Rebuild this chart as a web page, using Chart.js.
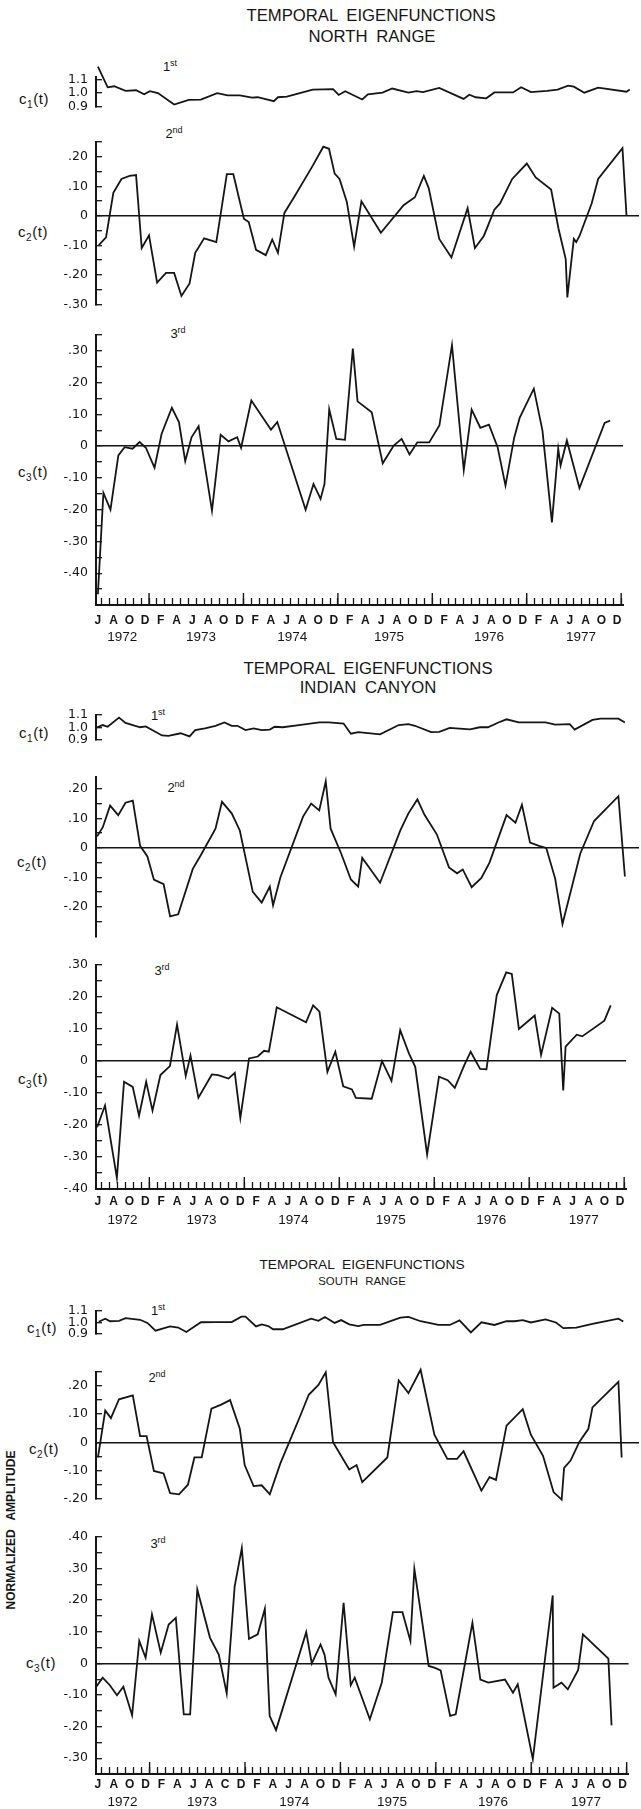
<!DOCTYPE html>
<html>
<head>
<meta charset="utf-8">
<script src="https://cdn.jsdelivr.net/npm/chart.js@4.4.1/dist/chart.umd.min.js"></script>
<style>
  body { margin: 0; background: #fff; }
  #page { position: relative; width: 641px; height: 1809px; overflow: hidden; color: #151515; font-family: "Liberation Sans", sans-serif; }
  .box { position: absolute; left: 0; }
  .t { position: absolute; white-space: nowrap; transform: translate(-50%, -50%); line-height: 1; }
  .title { font-size: 16.7px; word-spacing: 4px; }
  .small { font-size: 13.7px; }
  .tiny { font-size: 11.4px; }
  .clab { font-size: 15px; letter-spacing: 0.6px; }
  .clab sub { font-size: 10px; vertical-align: -4px; }
  .ord { font-size: 13px; }
  .ord sup { font-size: 9px; vertical-align: 5px; }
  .ylab { font-size: 12px; font-weight: bold; word-spacing: 6px; transform: translate(-50%, -50%) rotate(-90deg); }
</style>
</head>
<body>
<div id="page">
  <div class="t title" style="left:371px;top:16px">TEMPORAL EIGENFUNCTIONS</div>
  <div class="t title" style="left:372px;top:37px">NORTH RANGE</div>
  <div class="t clab" style="left:34px;top:100px">c<sub>1</sub>(t)</div>
  <div class="t clab" style="left:33px;top:233px">c<sub>2</sub>(t)</div>
  <div class="t clab" style="left:33px;top:473px">c<sub>3</sub>(t)</div>
  <div class="t ord" style="left:170px;top:66px">1<sup>st</sup></div>
  <div class="t ord" style="left:174px;top:133px">2<sup>nd</sup></div>
  <div class="t ord" style="left:178px;top:333px">3<sup>rd</sup></div>

  <div class="t title" style="left:368px;top:669px">TEMPORAL EIGENFUNCTIONS</div>
  <div class="t title" style="left:368px;top:688px">INDIAN CANYON</div>
  <div class="t clab" style="left:34px;top:734px">c<sub>1</sub>(t)</div>
  <div class="t clab" style="left:32px;top:863px">c<sub>2</sub>(t)</div>
  <div class="t clab" style="left:33px;top:1080px">c<sub>3</sub>(t)</div>
  <div class="t ord" style="left:158px;top:715px">1<sup>st</sup></div>
  <div class="t ord" style="left:176px;top:787px">2<sup>nd</sup></div>
  <div class="t ord" style="left:162px;top:970px">3<sup>rd</sup></div>

  <div class="t title small" style="left:362px;top:1265px">TEMPORAL EIGENFUNCTIONS</div>
  <div class="t title tiny" style="left:362px;top:1282px">SOUTH RANGE</div>
  <div class="t clab" style="left:42px;top:1329px">c<sub>1</sub>(t)</div>
  <div class="t clab" style="left:44px;top:1450px">c<sub>2</sub>(t)</div>
  <div class="t clab" style="left:41px;top:1664px">c<sub>3</sub>(t)</div>
  <div class="t ord" style="left:158px;top:1310px">1<sup>st</sup></div>
  <div class="t ord" style="left:157px;top:1377px">2<sup>nd</sup></div>
  <div class="t ord" style="left:158px;top:1543px">3<sup>rd</sup></div>
  <div class="t ylab" style="left:11px;top:1530px">NORMALIZED AMPLITUDE</div>
</div>

<script>
// x values are months counted from Jan 1972 (5 = Jun 1972, 71 = Dec 1977)
const monthLetters = ['J', 'F', 'M', 'A', 'M', 'J', 'J', 'A', 'S', 'O', 'N', 'D'];
const yearLabels = ['1972', '1973', '1974', '1975', '1976', '1977'];
const yearPositions = [7.6, 17.6, 29.2, 41.5, 54.2, 65.9];
const southLetterFix = { 21: 'C' }; // the south panel prints "C" for Oct 1973

const northC1 = [[4.5,1.197],[5.7,1.043],[6.5,1.051],[7.9,1.017],[9.2,1.021],[10.2,0.991],[10.9,1.014],[11.9,1.0],[13.9,0.915],[15.7,0.949],[17.2,0.952],[19.2,1.0],[20.5,0.983],[22.0,0.983],[23.5,0.966],[24.2,0.969],[26.2,0.94],[26.7,0.969],[27.8,0.974],[31.0,1.026],[33.5,1.029],[34.2,0.986],[35.0,1.014],[37.1,0.952],[37.8,0.991],[39.6,1.003],[40.8,1.034],[42.8,1.003],[43.8,1.014],[44.6,1.007],[46.6,1.039],[49.6,0.957],[50.3,0.988],[51.1,0.969],[52.4,0.961],[53.4,1.005],[55.7,1.005],[56.7,1.044],[57.9,1.007],[59.9,1.017],[61.2,1.026],[62.5,1.055],[63.2,1.048],[64.5,1.003],[66.2,1.041],[69.7,1.01],[70.1,1.026]];
const northC2 = [[4.6,-0.099],[5.5,-0.073],[6.4,0.078],[7.4,0.125],[8.4,0.135],[9.2,0.138],[9.9,-0.109],[10.8,-0.066],[11.8,-0.226],[12.9,-0.193],[13.9,-0.193],[14.8,-0.271],[15.8,-0.229],[16.5,-0.125],[17.6,-0.076],[19.1,-0.089],[20.4,0.141],[21.2,0.141],[22.5,-0.01],[23.1,-0.021],[24.0,-0.115],[25.2,-0.133],[26.0,-0.08],[26.7,-0.125],[27.5,0.01],[28.8,0.068],[31.0,0.17],[32.3,0.234],[33.0,0.227],[33.7,0.143],[34.3,0.125],[35.2,0.047],[36.1,-0.104],[37.0,0.049],[39.4,-0.057],[42.2,0.036],[43.6,0.063],[44.7,0.135],[45.3,0.094],[46.6,-0.078],[48.1,-0.141],[50.1,0.026],[51.0,-0.109],[52.1,-0.068],[53.4,0.021],[54.1,0.042],[55.6,0.125],[57.4,0.177],[58.5,0.13],[60.4,0.089],[61.3,-0.042],[62.2,-0.146],[62.4,-0.276],[63.2,-0.078],[63.5,-0.089],[63.9,-0.068],[65.4,0.042],[66.2,0.125],[69.2,0.229],[69.7,0.0]];
const northC3 = [[4.5,-0.466],[5.2,-0.147],[6.1,-0.2],[7.1,-0.029],[7.9,-0.003],[8.9,-0.008],[9.8,0.013],[10.6,-0.005],[11.7,-0.068],[12.6,0.039],[13.9,0.121],[14.8,0.076],[15.6,-0.047],[16.4,0.028],[17.3,0.063],[19.0,-0.203],[20.1,0.036],[21.1,0.015],[22.2,0.028],[22.7,-0.005],[24.0,0.144],[26.5,0.052],[27.3,0.076],[30.9,-0.2],[31.9,-0.119],[32.8,-0.166],[33.3,-0.119],[33.9,0.116],[34.8,0.023],[35.9,0.02],[36.9,0.307],[37.5,0.141],[39.3,0.107],[40.7,-0.054],[42.1,0.002],[43.1,0.023],[44.1,-0.026],[45.1,0.012],[46.6,0.012],[47.9,0.065],[49.5,0.318],[51.0,-0.075],[52.0,0.115],[53.1,0.058],[54.2,0.068],[55.3,-0.003],[56.3,-0.124],[57.4,0.026],[58.1,0.089],[59.9,0.181],[61.0,0.049],[62.2,-0.24],[63.0,-0.008],[63.3,-0.061],[64.1,0.018],[65.7,-0.132],[68.9,0.073],[69.6,0.081]];

const indianC1 = [[4.4,1.0],[5.1,1.018],[5.7,1.004],[7.1,1.079],[7.9,1.035],[9.7,1.0],[10.4,1.007],[12.4,0.933],[13.2,0.93],[14.7,0.951],[15.8,0.925],[16.5,0.977],[17.7,0.991],[19.0,1.012],[20.1,1.039],[21.0,1.012],[21.7,1.012],[22.7,0.977],[23.7,0.991],[24.7,0.977],[25.7,0.981],[26.3,1.004],[27.3,1.0],[29.3,1.018],[31.8,1.039],[33.0,1.039],[34.8,1.03],[35.7,0.947],[36.6,0.96],[39.3,0.942],[41.6,1.018],[42.8,1.025],[43.6,1.012],[45.6,0.96],[46.6,0.963],[47.9,0.995],[49.1,0.989],[50.4,0.982],[51.6,1.0],[52.6,1.0],[53.9,1.039],[54.9,1.065],[56.4,1.039],[58.4,1.039],[59.7,1.039],[60.9,1.021],[62.7,1.025],[63.3,0.981],[65.5,1.06],[66.5,1.07],[68.7,1.07],[69.5,1.039]];
const indianC2 = [[4.4,0.039],[5.1,0.07],[6.0,0.143],[7.0,0.111],[7.9,0.153],[8.8,0.16],[9.7,0.007],[10.6,-0.029],[11.4,-0.107],[12.6,-0.123],[13.4,-0.232],[14.4,-0.225],[16.2,-0.071],[17.2,-0.024],[19.0,0.065],[19.8,0.156],[21.0,0.117],[22.0,0.059],[23.6,-0.149],[24.7,-0.185],[25.7,-0.131],[26.1,-0.194],[27.0,-0.1],[29.8,0.106],[30.8,0.15],[31.8,0.127],[32.6,0.225],[33.2,0.065],[34.5,-0.019],[35.7,-0.107],[36.6,-0.131],[37.1,-0.034],[39.3,-0.118],[41.8,0.059],[42.8,0.117],[43.9,0.164],[44.8,0.111],[46.3,0.046],[47.8,-0.066],[48.8,-0.086],[49.5,-0.073],[50.6,-0.133],[51.8,-0.102],[52.8,-0.05],[54.9,0.111],[56.0,0.085],[56.8,0.146],[57.8,0.018],[58.9,0.007],[59.8,0.0],[60.9,-0.104],[61.8,-0.258],[64.0,-0.019],[65.7,0.091],[68.7,0.175],[69.5,-0.097]];
const indianC3 = [[4.4,-0.207],[5.4,-0.139],[6.9,-0.365],[7.8,-0.065],[8.9,-0.081],[9.7,-0.171],[10.6,-0.065],[11.4,-0.155],[12.4,-0.044],[13.6,-0.016],[14.5,0.114],[15.6,-0.047],[16.2,0.017],[17.2,-0.115],[18.9,-0.042],[19.7,-0.044],[21.0,-0.055],[21.8,-0.037],[22.5,-0.178],[23.6,0.008],[24.7,0.014],[25.5,0.032],[26.1,0.029],[27.1,0.168],[30.8,0.121],[31.7,0.174],[32.5,0.154],[33.5,-0.034],[34.5,0.029],[35.5,-0.079],[36.6,-0.089],[37.1,-0.115],[39.1,-0.118],[40.4,0.0],[41.6,-0.062],[42.7,0.096],[43.8,0.024],[44.6,-0.018],[46.1,-0.292],[47.6,-0.049],[48.7,-0.06],[49.6,-0.084],[50.8,-0.013],[51.6,0.029],[52.8,-0.025],[53.6,-0.026],[54.9,0.206],[56.1,0.277],[56.8,0.272],[57.7,0.1],[59.7,0.142],[60.5,0.019],[61.9,0.166],[62.8,0.148],[63.3,-0.092],[63.6,0.045],[65.0,0.082],[65.7,0.077],[68.5,0.126],[69.3,0.174]];

const southC1 = [[4.6,1.004],[5.4,1.032],[6.0,1.009],[7.1,1.013],[7.9,1.037],[9.7,1.022],[10.6,0.994],[11.6,0.925],[13.4,0.963],[14.4,0.953],[15.4,0.914],[17.2,1.0],[19.0,1.002],[21.0,1.002],[22.2,1.05],[22.7,1.05],[24.0,0.963],[24.7,0.981],[25.5,0.966],[26.1,0.938],[27.3,0.938],[30.8,1.032],[31.7,1.013],[32.5,1.047],[33.7,0.994],[34.5,1.019],[35.5,0.981],[36.6,0.966],[37.3,0.976],[39.3,0.976],[41.8,1.041],[42.8,1.047],[44.3,1.009],[46.5,0.976],[47.9,0.976],[49.1,1.017],[50.5,0.91],[51.8,1.0],[53.4,0.976],[54.9,1.009],[55.9,1.009],[56.9,1.019],[57.9,0.998],[59.7,1.026],[61.0,0.998],[61.9,0.948],[63.5,0.953],[65.5,0.985],[68.7,1.032],[69.3,1.007]];
const southC2 = [[4.5,-0.054],[5.4,0.113],[6.1,0.086],[7.1,0.153],[8.8,0.167],[9.7,0.022],[10.5,0.022],[11.4,-0.102],[12.6,-0.111],[13.4,-0.181],[14.5,-0.185],[15.6,-0.151],[16.4,-0.054],[17.3,-0.054],[18.5,0.12],[19.7,0.134],[20.8,0.15],[22.0,0.048],[22.6,-0.081],[23.7,-0.156],[24.7,-0.153],[25.7,-0.185],[27.0,-0.075],[29.5,0.097],[30.5,0.169],[31.7,0.204],[32.6,0.249],[33.5,0.0],[35.5,-0.097],[36.4,-0.081],[37.1,-0.142],[40.2,-0.054],[41.6,0.22],[42.8,0.175],[44.3,0.258],[46.0,0.027],[47.6,-0.059],[48.8,-0.059],[49.6,-0.032],[51.8,-0.172],[52.8,-0.124],[53.6,-0.134],[54.9,0.059],[56.9,0.118],[57.9,0.027],[59.4,-0.048],[60.7,-0.177],[61.7,-0.204],[62.0,-0.091],[62.8,-0.065],[63.9,0.002],[65.0,0.048],[65.5,0.124],[68.7,0.215],[69.1,-0.054]];
const southC3 = [[4.2,-0.077],[5.1,-0.045],[6.0,-0.069],[6.9,-0.101],[7.7,-0.074],[8.8,-0.164],[9.7,0.071],[10.5,0.018],[11.3,0.155],[12.4,0.034],[13.4,0.123],[14.3,0.144],[15.3,-0.161],[16.1,-0.161],[17.0,0.234],[18.6,0.081],[19.7,0.028],[20.7,-0.095],[21.7,0.244],[22.6,0.365],[23.5,0.078],[24.6,0.092],[25.5,0.173],[26.1,-0.166],[26.9,-0.211],[30.7,0.099],[31.4,0.0],[32.5,0.06],[33.0,0.028],[33.5,-0.045],[34.4,-0.098],[35.4,0.192],[36.3,-0.069],[36.8,-0.045],[38.7,-0.177],[40.2,-0.061],[41.6,0.162],[42.8,0.162],[43.8,0.071],[44.3,0.299],[46.1,-0.008],[46.9,-0.014],[47.6,-0.022],[48.8,-0.166],[49.5,-0.161],[51.6,0.128],[52.6,-0.051],[53.6,-0.061],[55.7,-0.051],[56.7,-0.093],[57.3,-0.066],[59.2,-0.303],[61.7,0.215],[61.8,-0.077],[62.8,-0.061],[63.6,-0.082],[64.9,-0.021],[65.5,0.092],[68.7,0.015],[69.1,-0.196]];

const INK = '#151515';
const AREA_LEFT = 96;
const AREA_RIGHT = 639;
const X_MIN = 4.26;
const X_MAX = 71.24;
const page = document.getElementById('page');

// long December ticks + year row under the month letters
const xAxisExtras = {
  id: 'xAxisExtras',
  afterDraw(chart, args, opts) {
    if (!opts.show) return;
    const xs = chart.scales.x;
    const c = chart.ctx;
    c.save();
    c.strokeStyle = INK;
    c.lineWidth = 1.4;
    for (let m = 11; m <= X_MAX; m += 12) {
      const px = xs.getPixelForValue(m);
      c.beginPath();
      c.moveTo(px, xs.top);
      c.lineTo(px, xs.top - 12);
      c.stroke();
    }
    c.fillStyle = INK;
    c.font = '13.5px "Liberation Sans", sans-serif';
    c.textAlign = 'center';
    c.textBaseline = 'middle';
    yearLabels.forEach((txt, i) => {
      c.fillText(txt, xs.getPixelForValue(yearPositions[i]), xs.top + opts.yearGap);
    });
    c.restore();
  }
};

function fmtSmall(v) {
  const k = Math.round(v * 100);
  if (k % 10 !== 0 || k < -40) return '';
  if (k === 0) return '0';
  return (k < 0 ? '-' : '') + (Math.abs(k) / 100).toFixed(2).replace(/^0/, '');
}

function fmtOne(v) {
  return (Math.round(v * 10) / 10).toFixed(1);
}

function monthLabel(v, fix) {
  const m = Math.round(v);
  if (Math.abs(v - m) > 1e-6 || (m - 5) % 2 !== 0) return '';
  return (fix && fix[m]) || monthLetters[m % 12];
}

function addChart(series, cfg) {
  const padTop = 26;
  const padBottom = cfg.xAxis ? 24 : 8;
  const axisH = cfg.xAxis ? 22 : 0;
  const top = cfg.top - padTop;
  const height = cfg.bottom - cfg.top + padTop + padBottom + axisH;

  const wrap = document.createElement('div');
  wrap.className = 'box';
  wrap.style.top = top + 'px';
  const cv = document.createElement('canvas');
  cv.width = 641;
  cv.height = height;
  wrap.appendChild(cv);
  page.appendChild(wrap);

  new Chart(cv, {
    type: 'line',
    data: {
      datasets: [{
        data: series.map(p => ({ x: p[0], y: p[1] })),
        borderColor: INK,
        borderWidth: 1.8,
        pointRadius: 0,
        tension: 0,
        clip: false
      }]
    },
    plugins: [xAxisExtras],
    options: {
      responsive: false,
      animation: false,
      events: [],
      layout: { padding: { left: 0, right: 641 - AREA_RIGHT, top: padTop, bottom: padBottom } },
      plugins: {
        legend: { display: false },
        tooltip: { enabled: false },
        xAxisExtras: { show: !!cfg.xAxis, yearGap: cfg.yearGap }
      },
      scales: {
        x: {
          type: 'linear',
          min: X_MIN,
          max: X_MAX,
          display: !!cfg.xAxis,
          afterFit: s => { s.height = axisH; },
          grid: { drawOnChartArea: false, tickLength: -7, tickColor: INK, tickWidth: 1.3 },
          border: { display: true, color: INK, width: 2 },
          ticks: {
            stepSize: 1,
            autoSkip: false,
            includeBounds: false,
            maxRotation: 0,
            minRotation: 0,
            padding: cfg.labelGap,
            labelOffset: -4,
            color: INK,
            font: { family: '"Liberation Sans", sans-serif', size: 12, weight: 'bold' },
            callback: v => monthLabel(v, cfg.letterFix)
          }
        },
        y: {
          min: cfg.yMin,
          max: cfg.yMax,
          afterFit: s => { s.width = AREA_LEFT; },
          grid: {
            drawOnChartArea: true,
            color: ctx => (ctx.tick && Math.abs(ctx.tick.value) < 1e-9 ? INK : 'rgba(0,0,0,0)'),
            lineWidth: 1.4,
            tickColor: INK,
            tickWidth: 1.3,
            tickLength: -6
          },
          border: { display: true, color: INK, width: 2 },
          ticks: {
            stepSize: cfg.step,
            autoSkip: false,
            includeBounds: false,
            padding: 14,
            color: INK,
            font: { family: '"DejaVu Sans", sans-serif', size: 12.5 },
            callback: cfg.step === 0.1 ? fmtOne : fmtSmall
          }
        }
      }
    }
  });
}

// North Range
addChart(northC1, { top: 77, bottom: 120, yMin: 0.9, yMax: 1.12, step: 0.1 });
addChart(northC2, { top: 142, bottom: 318, yMin: -0.30, yMax: 0.25, step: 0.05 });
addChart(northC3, { top: 335, bottom: 605, yMin: -0.50, yMax: 0.35, step: 0.05, xAxis: true, labelGap: 15.5, yearGap: 32 });
// Indian Canyon
addChart(indianC1, { top: 715, bottom: 753, yMin: 0.9, yMax: 1.1, step: 0.1 });
addChart(indianC2, { top: 777, bottom: 950, yMin: -0.30, yMax: 0.24, step: 0.05 });
addChart(indianC3, { top: 965, bottom: 1189, yMin: -0.40, yMax: 0.30, step: 0.05, xAxis: true, labelGap: 12.5, yearGap: 31 });
// South Range
addChart(southC1, { top: 1311, bottom: 1347, yMin: 0.9, yMax: 1.1, step: 0.1 });
addChart(southC2, { top: 1372, bottom: 1512, yMin: -0.20, yMax: 0.25, step: 0.05 });
addChart(southC3, { top: 1537, bottom: 1774, yMin: -0.35, yMax: 0.40, step: 0.05, xAxis: true, labelGap: 10, yearGap: 28, letterFix: southLetterFix });
</script>
</body>
</html>
